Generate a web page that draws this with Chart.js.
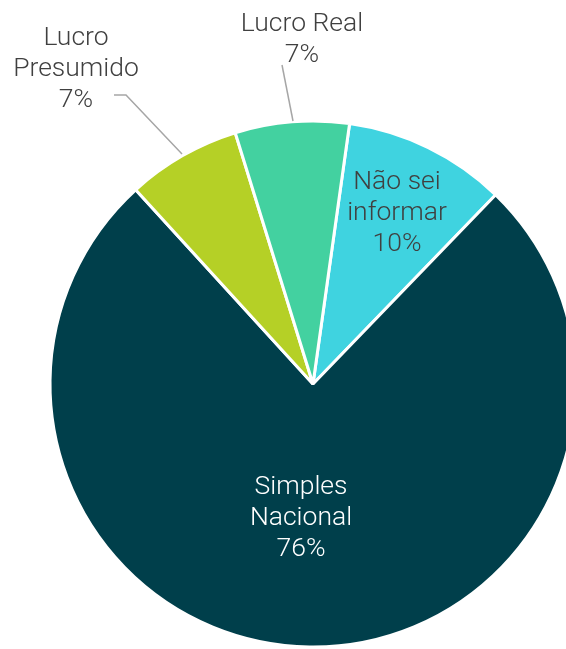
<!DOCTYPE html>
<html>
<head>
<meta charset="utf-8">
<script src="https://cdn.jsdelivr.net/npm/chart.js@4.4.1/dist/chart.umd.min.js"></script>
<style>
  html, body { margin: 0; padding: 0; background: #fff; overflow: hidden; }
  #wrap { width: 566px; height: 649px; overflow: hidden; position: relative; }
  #regime { position: absolute; left: 0; top: 0; }
</style>
</head>
<body>
<div id="wrap"><canvas id="regime" width="626" height="768"></canvas></div>
<script>
// regime tributário das empresas
const labels = ["Não sei informar", "Simples Nacional", "Lucro Presumido", "Lucro Real"];
const values = [10, 76, 7, 7];
const colors = ["#3fd3e0", "#003f4b", "#b5d026", "#43d1a0"];

// where each label block sits, and its leader line if it is outside the pie
const labelLayout = [
  { lines: ["Não sei", "informar"], x: 397, y: 182, color: "#404040" },
  { lines: ["Simples", "Nacional"], x: 301, y: 487, color: "#ffffff" },
  { lines: ["Lucro", "Presumido"], x: 76, y: 38, color: "#404040",
    leader: [[114, 95], [126, 95], [182, 154]] },
  { lines: ["Lucro Real"], x: 302, y: 24, color: "#404040",
    leader: [[282, 65], [293, 121]] }
];

const pieLabels = {
  id: "pieLabels",
  afterDatasetsDraw(chart) {
    const ctx = chart.ctx;
    const data = chart.data.datasets[0].data;
    const total = data.reduce((a, b) => a + b, 0);
    ctx.save();
    ctx.font = "300 26.5px Roboto";
    ctx.textAlign = "center";
    ctx.textBaseline = "middle";
    labelLayout.forEach((l, i) => {
      if (l.leader) {
        ctx.strokeStyle = "#a6a6a6";
        ctx.lineWidth = 1.5;
        ctx.beginPath();
        l.leader.forEach((p, j) => j ? ctx.lineTo(p[0], p[1]) : ctx.moveTo(p[0], p[1]));
        ctx.stroke();
      }
      const pct = Math.round(data[i] / total * 100) + "%";
      const rows = l.lines.concat([pct]);
      ctx.fillStyle = l.color;
      rows.forEach((t, k) => ctx.fillText(t, l.x, l.y + k * 31.3));
    });
    ctx.restore();
  }
};

new Chart(document.getElementById("regime"), {
  type: "pie",
  data: {
    labels,
    datasets: [{
      data: values,
      backgroundColor: colors,
      borderColor: "#ffffff",
      borderWidth: 3,
      hoverOffset: 0
    }]
  },
  options: {
    responsive: false,
    animation: false,
    rotation: 8,
    radius: 263,
    layout: { padding: { left: 50, right: 50, top: 121, bottom: 121 } },
    plugins: {
      legend: { display: false },
      tooltip: { enabled: false }
    }
  },
  plugins: [pieLabels]
});
</script>
</body>
</html>
